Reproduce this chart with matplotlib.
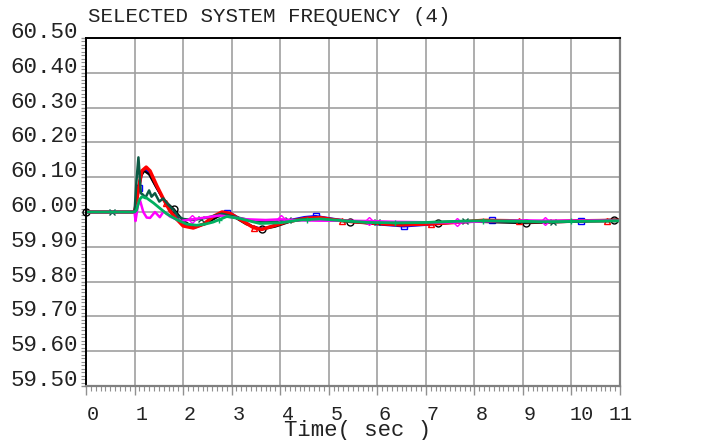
import matplotlib
matplotlib.use("Agg")
import matplotlib.pyplot as plt
import matplotlib.transforms as mtransforms
import numpy as np
from matplotlib.ticker import MultipleLocator

# ---- data (time in s, frequency in Hz) ----
blue_t = [0, 1.0, 1.04, 1.09, 1.15, 1.22, 1.30, 1.45, 1.6, 1.75, 1.9, 2.05, 2.25, 2.45, 2.65, 2.82, 3.0, 3.2, 3.45, 3.65, 3.9, 4.15, 4.5, 4.73, 5.1, 5.5, 6.0, 6.55, 7.15, 7.6, 8.2, 8.7, 9.2, 9.8, 10.4, 11.0]
blue_f = [60.0, 60.0, 60.03, 60.07, 60.112, 60.125, 60.112, 60.072, 60.035, 60.003, 59.978, 59.962, 59.956, 59.966, 59.987, 60.0, 59.995, 59.978, 59.956, 59.952, 59.962, 59.975, 59.985, 59.988, 59.980, 59.972, 59.965, 59.959, 59.965, 59.970, 59.976, 59.975, 59.972, 59.974, 59.976, 59.977]

red_t = [0, 1.0, 1.03, 1.08, 1.15, 1.24, 1.32, 1.46, 1.6, 1.73, 1.87, 2.0, 2.21, 2.42, 2.62, 2.8, 2.97, 3.17, 3.45, 3.62, 3.86, 4.13, 4.54, 4.82, 5.09, 5.5, 6.0, 6.47, 7.15, 7.6, 8.18, 8.7, 9.2, 9.8, 10.4, 11.0]
red_f = [60.0, 60.0, 60.02, 60.065, 60.118, 60.129, 60.118, 60.075, 60.036, 60.003, 59.979, 59.96, 59.954, 59.965, 59.987, 60.0, 59.996, 59.979, 59.955, 59.95, 59.96, 59.972, 59.982, 59.984, 59.978, 59.972, 59.967, 59.963, 59.966, 59.970, 59.976, 59.975, 59.972, 59.973, 59.975, 59.976]

black_t = [0, 1.0, 1.05, 1.12, 1.2, 1.3, 1.45, 1.6, 1.81, 2.0, 2.2, 2.45, 2.7, 2.85, 3.0, 3.3, 3.62, 3.9, 4.2, 4.6, 5.0, 5.44, 6.0, 6.5, 7.26, 8.0, 9.07, 10.0, 10.88, 11.0]
black_f = [60.0, 60.0, 60.05, 60.10, 60.118, 60.108, 60.07, 60.035, 60.008, 59.975, 59.958, 59.965, 59.985, 59.995, 59.99, 59.965, 59.95, 59.958, 59.972, 59.981, 59.979, 59.972, 59.966, 59.962, 59.968, 59.972, 59.968, 59.972, 59.978, 59.978]

dkgreen_t = [0, 1.0, 1.04, 1.08, 1.13, 1.18, 1.22, 1.30, 1.35, 1.42, 1.51, 1.59, 1.70, 1.80, 1.90, 2.0, 2.2, 2.5, 2.8, 3.1, 3.5, 3.9, 4.17, 4.6, 5.0, 5.5, 6.0, 6.5, 7.0, 7.8, 8.5, 9.0, 9.62, 10.3, 11.0]
dkgreen_f = [60.0, 60.0, 60.09, 60.157, 60.054, 60.049, 60.040, 60.062, 60.044, 60.054, 60.030, 60.039, 60.020, 60.006, 59.987, 59.980, 59.977, 59.984, 59.995, 59.985, 59.972, 59.972, 59.976, 59.979, 59.977, 59.972, 59.970, 59.968, 59.970, 59.974, 59.973, 59.971, 59.971, 59.973, 59.974]

magenta_t = [0, 1.0, 1.02, 1.07, 1.11, 1.18, 1.25, 1.32, 1.42, 1.52, 1.6, 1.73, 1.94, 2.19, 2.5, 2.76, 3.0, 3.31, 3.7, 4.01, 4.4, 4.82, 5.3, 5.83, 6.3, 6.8, 7.2, 7.64, 8.2, 8.7, 9.0, 9.46, 10.0, 10.5, 11.0]
magenta_f = [60.0, 60.0, 59.974, 60.02, 60.035, 60.0, 59.984, 59.983, 60.0, 59.985, 60.002, 59.987, 59.974, 59.979, 59.985, 59.99, 59.985, 59.979, 59.977, 59.979, 59.976, 59.975, 59.975, 59.974, 59.972, 59.971, 59.970, 59.970, 59.973, 59.975, 59.976, 59.975, 59.975, 59.976, 59.975]

green_t = [0, 1.0, 1.04, 1.10, 1.15, 1.25, 1.39, 1.52, 1.66, 1.87, 2.08, 2.28, 2.45, 2.62, 2.9, 3.17, 3.58, 4.0, 4.4, 4.82, 5.3, 5.8, 6.37, 7.0, 7.6, 8.18, 8.8, 9.4, 10.0, 10.5, 11.0]
green_f = [60.0, 60.0, 60.005, 60.035, 60.044, 60.040, 60.026, 60.011, 59.995, 59.978, 59.965, 59.962, 59.965, 59.971, 59.987, 59.981, 59.967, 59.969, 59.977, 59.980, 59.975, 59.970, 59.969, 59.970, 59.973, 59.975, 59.974, 59.972, 59.973, 59.974, 59.975]

# marker times along each trace
blue_marks = [1.09, 2.91, 4.73, 6.55, 8.37, 10.19]
red_marks = [1.64, 3.46, 5.28, 7.10, 8.92, 10.74]
black_marks = [0.0, 1.81, 3.62, 5.44, 7.26, 9.07, 10.88]
dkgreen_marks = [0.54, 2.36, 4.17, 5.99, 7.80, 9.62]
magenta_marks = [2.19, 4.01, 5.83, 7.64, 9.46]
green_marks = [2.73, 4.55, 6.37, 8.18, 10.0]

x_ticks = list(range(0, 12))
y_ticks = [59.5, 59.6, 59.7, 59.8, 59.9, 60.0, 60.1, 60.2, 60.3, 60.4, 60.5]

MONO = "Liberation Mono"
PX = 72 / 100  # points per pixel at dpi 100

fig = plt.figure(figsize=(7.23, 4.40), dpi=100)
ax = fig.add_axes([86 / 723, 1 - 386 / 440, 534 / 723, 348 / 440])

series = [
    (blue_t, blue_f, blue_marks, "#0000ff", "s", 1.8),
    (black_t, black_f, black_marks, "#000000", "o", 1.6),
    (red_t, red_f, red_marks, "#ff0000", "^", 2.5),
    (dkgreen_t, dkgreen_f, dkgreen_marks, "#0b5a44", "x", 1.8),
    (magenta_t, magenta_f, magenta_marks, "#ff00ff", "D", 1.8),
    (green_t, green_f, green_marks, "#00b060", "+", 2.0),
]
for t, f, marks, col, mk, lw in series:
    ax.plot(t, f, color=col, linewidth=lw, solid_joinstyle="round")
    ax.plot(marks, np.interp(marks, t, f), linestyle="none", marker=mk,
            markersize=5 if mk != "D" else 4, markerfacecolor="none",
            markeredgecolor=col, markeredgewidth=1.0, clip_on=False)

ax.set_xlim(0, 11)
ax.set_ylim(59.5, 60.5)
ax.set_xticks(x_ticks)
ax.set_yticks(y_ticks)
ax.xaxis.set_minor_locator(MultipleLocator(0.1))
ax.yaxis.set_minor_locator(MultipleLocator(0.01))
ax.grid(True, which="major", color="#a0a0a0", linewidth=1.2)
ax.set_axisbelow(True)

for side in ["top", "left"]:
    ax.spines[side].set_color("#000000")
    ax.spines[side].set_linewidth(1.4)
for side in ["right", "bottom"]:
    ax.spines[side].set_color("#808080")
    ax.spines[side].set_linewidth(1.6)

ax.tick_params(axis="x", which="major", direction="out", length=9 * PX, width=1, color="#909090", pad=10 * PX)
ax.tick_params(axis="x", which="minor", direction="out", length=5 * PX, width=0.8, color="#909090")
ax.tick_params(axis="y", which="major", direction="out", length=5 * PX, width=1, color="#909090", pad=3 * PX)
ax.tick_params(axis="y", which="minor", direction="out", length=5 * PX, width=0.8, color="#909090")

ax.set_xticklabels([str(v) for v in x_ticks], fontfamily=MONO, fontsize=14.5, color="#222222")
ax.set_yticklabels([f"{v:.2f}" for v in y_ticks], fontfamily=MONO, fontsize=16.2, color="#222222")

# labels in the original sit a little right of their ticks
x_shift = [7, 7, 7, 7, 8, 8, 7, 7, 7, 7, 10, 1]
for lab, dx in zip(ax.get_xticklabels(), x_shift):
    lab.set_transform(lab.get_transform() + mtransforms.ScaledTranslation(dx / 100, 0, fig.dpi_scale_trans))
for lab in ax.get_yticklabels():
    lab.set_verticalalignment("baseline")

fig.text(88 / 723, 1 - 17 / 440, "SELECTED SYSTEM FREQUENCY (4)", fontfamily=MONO,
         fontsize=15, ha="left", va="center", color="#222222")
fig.text(358 / 723, 1 - 436 / 440, "Time( sec )", fontfamily=MONO,
         fontsize=16, ha="center", va="baseline", color="#222222")

fig.savefig("out.png", dpi=100)
